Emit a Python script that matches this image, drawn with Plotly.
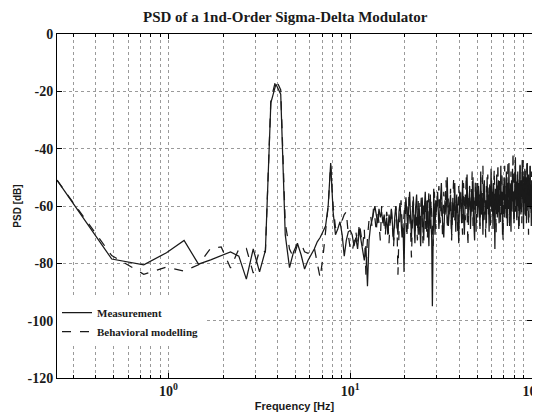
import numpy as np
import plotly.graph_objects as go

df = 1000.0 / 4096.0  # FFT bin spacing [Hz]

# Measurement, bins 1..41 (0.24 Hz .. 10 Hz)
meas_low = [-51, -78.5, -80.5, -76.3, -72, -80.3, -78.8, -77.3, -76, -77.5,
            -85.5, -75, -83, -75.5, -24, -17.5, -21, -70, -81.5, -76,
            -73, -77, -82, -79, -77, -75, -72.5, -71, -69, -67,
            -60, -45, -62, -70, -68, -65.5, -70, -77.5, -72, -69, -68.5]
# Measurement, bins 42..122 (10 Hz .. 30 Hz)
meas_mid = [-70, -74, -71, -75, -68, -72, -76, -79, -74, -88, -72, -67, -65, -62, -60, -63,
            -66, -61, -64, -62, -66, -63, -68, -64, -70, -63, -66, -61, -67, -72, -64, -60,
            -66, -70, -62, -59, -65, -71, -66, -83, -62, -57, -63, -68, -60, -55, -64, -71,
            -62, -58, -66, -73, -60, -56, -64, -70, -59, -65, -74, -61, -57, -67, -72, -60,
            -55, -63, -69, -58, -64, -74, -61, -56, -66, -71, -95, -60, -54, -63, -70, -58, -62]
# Measurement, every second bin from 124 (30 Hz .. 100 Hz)
meas_high = [-55, -68, -60, -52, -66, -71, -58, -63, -50, -67, -61, -56, -70, -59, -64, -52, -69, -57, -62, -73, -55,
             -58, -66, -51, -63, -70, -56, -61, -49, -65, -59, -54, -68, -57, -62, -50, -66, -72, -55, -60, -52,
             -64, -53, -59, -67, -48, -62, -57, -70, -55, -51, -63, -58, -66, -50, -61, -56, -69, -53, -60, -47,
             -62, -55, -68, -52, -59, -75, -54, -61, -49, -64, -57, -51, -66, -56, -60, -46, -63, -55, -70, -53, -58,
             -50, -64, -56, -61, -48, -59, -67, -52, -57, -45, -63, -54, -60, -69, -51, -58, -47, -62, -55, -66,
             -50, -58, -43, -61, -53, -65, -56, -48, -60, -52, -67, -55, -46, -59, -63, -51, -57, -44, -62, -54, -68,
             -52, -59, -47, -63, -55, -50, -66, -53, -45, -60, -56, -49, -64, -52, -58, -46, -61, -54, -67, -51]

# Behavioral modelling
model_low = [-51, -77.3, -83.8, -81.3, -82.7, -80.5, -74.7, -74.3, -81.6, -75,
             -74.8, -83.4, -75.4, -76, -23, -15.8, -19.5, -66, -75, -78,
             -73.5, -73, -76, -76.5, -75.5, -74.5, -80, -85, -78, -68.5,
             -60, -45.5, -60, -67.5, -67, -66, -65, -63, -62, -70, -75]
model_mid = [-76, -72, -69, -73, -66, -70, -74, -68, -84, -71, -65, -63, -67, -61, -64, -69,
             -62, -66, -72, -60, -63, -67, -70, -62, -65, -73, -64, -61, -68, -74, -66, -60,
             -64, -84, -69, -62, -58, -66, -70, -63, -59, -65, -71, -61, -57, -64, -68, -78,
             -62, -56, -63, -69, -60, -66, -72, -58, -63, -70, -61, -56, -65, -73, -59, -63,
             -68, -57, -62, -71, -60, -55, -64, -69, -58, -61, -67, -74, -59, -55, -62, -68, -58]
model_high = [-60, -53, -66, -58, -71, -55, -62, -51, -68, -57, -64, -54, -72, -59, -50, -65, -61, -56, -69, -53, -63,
              -55, -62, -70, -52, -58, -65, -49, -61, -74, -56, -53, -64, -59, -48, -67, -57, -62, -51, -69, -58,
              -52, -61, -56, -68, -50, -63, -58, -46, -65, -54, -60, -71, -53, -57, -49, -64, -59, -52, -67, -55,
              -50, -59, -64, -53, -47, -61, -56, -70, -52, -58, -45, -63, -57, -51, -66, -54, -60, -48, -62, -72, -55,
              -57, -46, -61, -53, -65, -50, -58, -44, -62, -55, -68, -52, -56, -48, -63, -54, -59, -41, -60, -66,
              -53, -47, -62, -56, -51, -64, -49, -58, -54, -69, -50, -57, -45, -61, -55, -52, -66, -48, -59, -44, -63,
              -56, -50, -60, -47, -65, -53, -58, -44, -62, -51, -57, -70, -49, -55, -61, -46, -59, -53, -64, -48]

y_ticks = [0, -20, -40, -60, -80, -100, -120]
y_labels = ["0", "-20", "-40", "-60", "-80", "-100", "-120"]
x_ticks = [1, 10, 100]
x_labels = ["10<sup>0</sup>", "10<sup>1</sup>", "10<sup>2</sup>"]


def build(low, mid, high):
    k1 = np.arange(1, len(low) + 1)
    k2 = np.arange(len(low) + 1, len(low) + 1 + len(mid))
    k3 = k2[-1] + 2 + 2 * np.arange(len(high))
    k = np.concatenate([k1, k2, k3])
    return k * df, np.array(low + mid + high, dtype=float)


fm, ym = build(meas_low, meas_mid, meas_high)
fb, yb = build(model_low, model_mid, model_high)

serif = "Liberation Serif"
sans = "Liberation Sans"
ink = "#1a1a1a"

fig = go.Figure()
fig.add_trace(go.Scatter(x=fm, y=ym, mode="lines", name="<b>Measurement</b>",
                         line=dict(color=ink, width=1.25)))
fig.add_trace(go.Scatter(x=fb, y=yb, mode="lines", name="<b>Behavioral modelling</b>",
                         line=dict(color=ink, width=1.25, dash="dash")))

# page has an 8px body margin, so the figure is sized 532x405
fig.update_layout(
    width=532, height=405,
    margin=dict(l=49, r=8, t=26, b=35, autoexpand=False),
    paper_bgcolor="white", plot_bgcolor="white",
    title=dict(text="<b>PSD of a 1nd-Order Sigma-Delta Modulator</b>", x=0.521, xanchor="center",
               y=0.978, yanchor="middle",
               font=dict(family=serif, size=15, color=ink)),
    showlegend=True,
    legend=dict(x=0.0, y=0.232, xanchor="left", yanchor="top", bgcolor="white",
                borderwidth=0, font=dict(family=serif, size=11, color=ink),
                tracegroupgap=0, itemwidth=30),
    xaxis=dict(type="log", range=[np.log10(df), 2], tickvals=x_ticks,
               ticktext=["<b>%s</b>" % t for t in x_labels],
               ticklabeloverflow="allow",
               automargin=False,
               showline=True, linecolor="black", linewidth=1, mirror="allticks",
               ticks="inside", ticklen=5, tickcolor="black",
               showgrid=True, gridcolor="#9a9a9a", griddash="dot", gridwidth=1,
               minor=dict(dtick="D1", showgrid=True, gridcolor="#9a9a9a", griddash="dot",
                          ticks="inside", ticklen=3, tickcolor="black"),
               tickfont=dict(family=serif, size=14, color=ink),
               title=dict(text="<b>Frequency [Hz]</b>", standoff=4,
                          font=dict(family=sans, size=11, color=ink)),
               zeroline=False),
    yaxis=dict(range=[-120, 0], tickvals=y_ticks, ticktext=["<b>%s</b>" % t for t in y_labels],
               automargin=False,
               showline=True, linecolor="black", linewidth=1, mirror="allticks",
               ticks="inside", ticklen=5, tickcolor="black",
               showgrid=True, gridcolor="#9a9a9a", griddash="dot", gridwidth=1,
               tickfont=dict(family=serif, size=14, color=ink),
               title=dict(text="<b>PSD [dB]</b>", standoff=4,
                          font=dict(family=sans, size=10, color=ink)),
               zeroline=False),
)

fig.write_html("out.html")
